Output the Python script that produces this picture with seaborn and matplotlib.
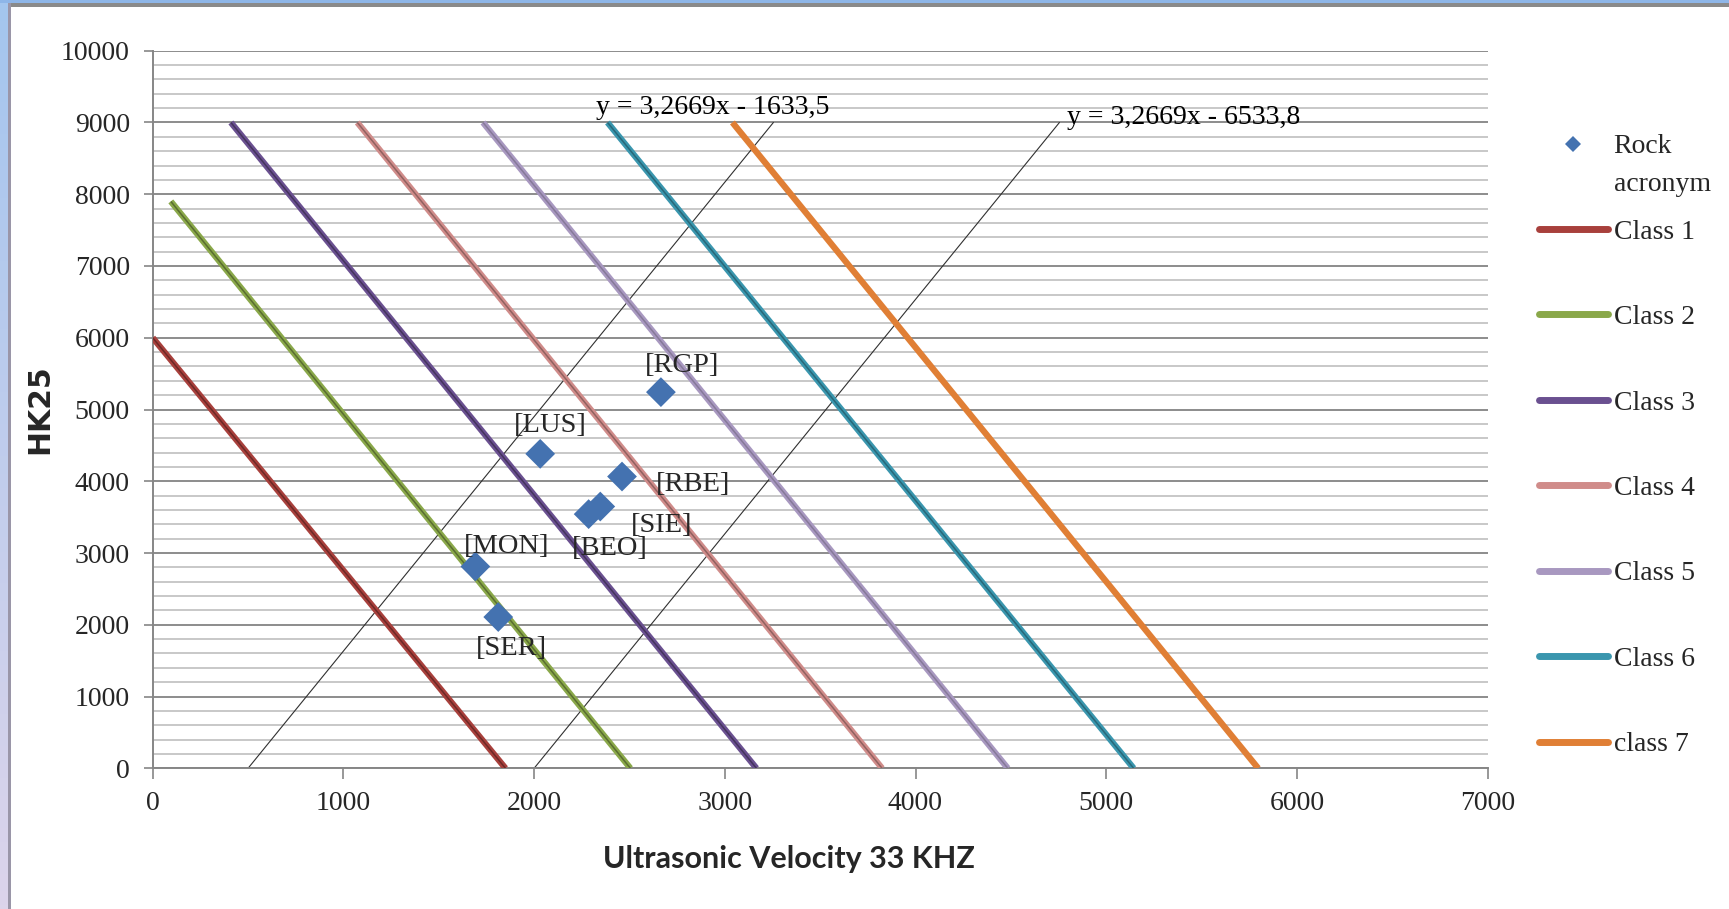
import numpy as np
import pandas as pd
import matplotlib
matplotlib.use("Agg")
import matplotlib.pyplot as plt
import matplotlib.patheffects as pe
from matplotlib.lines import Line2D
from matplotlib.patches import Rectangle
from matplotlib.ticker import MultipleLocator
from matplotlib import font_manager as fm
import seaborn as sns

# ---------------- data ----------------
rock_names = ["RGP", "LUS", "RBE", "SIE", "BEO", "MON", "SER"]
rock_x = [2665, 2032, 2461, 2347, 2286, 1692, 1812]
rock_y = [5242, 4382, 4066, 3648, 3542, 2812, 2108]

classes = ["Class 1", "Class 2", "Class 3", "Class 4", "Class 5", "Class 6", "class 7"]
class_x_top = [0, 95, 410, 1073, 1732, 2385, 3040]
class_y_top = [6000, 7900, 9000, 9000, 9000, 9000, 9000]
class_x_base = [1850, 2505, 3166, 3825, 4484, 5144, 5797]
class_y_base = [0, 0, 0, 0, 0, 0, 0]

trend_slope = [3.2669, 3.2669]
trend_intercept = [-1633.5, -6533.8]
trend_labels = ["y = 3,2669x - 1633,5", "y = 3,2669x - 6533,8"]
trend_y_range = [0, 9000]

x_ticks = [0, 1000, 2000, 3000, 4000, 5000, 6000, 7000]
y_ticks = [0, 1000, 2000, 3000, 4000, 5000, 6000, 7000, 8000, 9000, 10000]

# ---------------- style ----------------
class_colors = ["#A8403C", "#8AA84A", "#6A5090", "#D08C8A", "#A898C0", "#3A96AE", "#E07F35"]
core_alpha = [0.35, 0.35, 0.35, 0.3, 0.2, 0.3, 0.0]
rock_color = "#4472B0"
label_offsets = {  # points (dx, dy) of labels relative to markers
    "RGP": (15.3, 18.9), "LUS": (7.2, 20.2), "RBE": (51.3, -6.0),
    "SIE": (43.9, -13.9), "BEO": (14.9, -25.0), "MON": (22.3, 14.2),
    "SER": (9.4, -22.8),
}
trend_label_pos = [(2325, 9114), (4793, 8975)]

sns.set_style("white")
plt.rcParams["font.family"] = ["Liberation Serif", "DejaVu Serif"]

names = {f.name for f in fm.fontManager.ttflist}
if "Liberation Sans Narrow" in names:
    xlab_font, xlab_size = "Liberation Sans Narrow", 26
else:
    xlab_font, xlab_size = "Lato", 22

W, H = 1729, 909
fig = plt.figure(figsize=(W / 100, H / 100), dpi=100)
fig.patch.set_facecolor("white")
ax = fig.add_axes([152.7 / W, 1 - 768.3 / H, (1487.6 - 152.7) / W, (768.3 - 50.7) / H])

# class lines
rows = []
for c, xt, yt, xb, yb in zip(classes, class_x_top, class_y_top, class_x_base, class_y_base):
    rows.append({"Class": c, "x": xt, "y": yt})
    rows.append({"Class": c, "x": xb, "y": yb})
df_lines = pd.DataFrame(rows)
sns.lineplot(data=df_lines, x="x", y="y", hue="Class", palette=dict(zip(classes, class_colors)),
             linewidth=4.5, sort=False, estimator=None, legend=False, ax=ax, zorder=3)
for line, a in zip(ax.get_lines(), core_alpha):
    line.set_solid_capstyle("butt")
    if a > 0:
        line.set_path_effects([pe.Normal(), pe.Stroke(linewidth=1.1, foreground="black", alpha=a)])

# trend lines
for m, b in zip(trend_slope, trend_intercept):
    ys = np.array(trend_y_range, dtype=float)
    xs = (ys - b) / m
    sns.lineplot(x=xs, y=ys, color="#303030", linewidth=0.8, sort=False, estimator=None, ax=ax, zorder=2)
for lbl, (tx, ty) in zip(trend_labels, trend_label_pos):
    ax.text(tx, ty, lbl, fontsize=20, ha="left", va="baseline", color="black", zorder=6)

# scatter
sns.scatterplot(x=rock_x, y=rock_y, marker="D", s=230, color=rock_color, edgecolor="none",
                legend=False, ax=ax, zorder=5)
for n, x, y in zip(rock_names, rock_x, rock_y):
    ax.annotate(f"[{n}]", (x, y), xytext=label_offsets[n], textcoords="offset points",
                ha="center", va="center", fontsize=20.5, zorder=6)

# axes
ax.set_xlim(0, 7000)
ax.set_ylim(0, 10000)
ax.set_xticks(x_ticks)
ax.set_yticks(y_ticks)
ax.set_xticklabels([str(v) for v in x_ticks])
ax.set_yticklabels([str(v) for v in y_ticks])
ax.yaxis.set_minor_locator(MultipleLocator(200))
ax.set_axisbelow(True)
ax.grid(which="minor", axis="y", color="#C8C8C8", linewidth=1.4)
ax.grid(which="major", axis="y", color="#8C8C8C", linewidth=1.4)
ax.grid(which="both", axis="x", visible=False)
for s in ["top", "right"]:
    ax.spines[s].set_visible(False)
for s in ["left", "bottom"]:
    ax.spines[s].set_color("#868686")
    ax.spines[s].set_linewidth(1.4)
ax.tick_params(axis="y", which="major", length=6.5, width=1.2, color="#868686", pad=10,
               labelsize=20, direction="out", left=True)
ax.tick_params(axis="y", which="minor", length=0)
ax.tick_params(axis="x", which="major", length=8, width=1.2, color="#868686", pad=8,
               labelsize=20, direction="out", bottom=True)

ax.set_xlabel("Ultrasonic Velocity 33 KHZ", fontsize=xlab_size, fontweight="bold",
              family=[xlab_font, "DejaVu Sans"])
ax.xaxis.label.set_va("center")
ax.xaxis.set_label_coords((789 - 152.7) / (1487.6 - 152.7), (768.3 - 859) / (768.3 - 50.7))
ax.set_ylabel("HK25", fontsize=21.5, fontweight="bold", family=["DejaVu Sans"])
ax.yaxis.label.set_va("center")
ax.yaxis.set_label_coords((40 - 152.7) / (1487.6 - 152.7), 0.5)

# legend
handles = [Line2D([], [], marker="D", ls="", color=rock_color, markersize=8, markeredgewidth=0)]
for c in class_colors:
    handles.append(Line2D([], [], color=c, linewidth=5, solid_capstyle="round"))
leg = ax.legend(handles=handles, labels=["Rock"] + classes, loc="upper left",
                bbox_to_anchor=(1538.5 / W, 1 - 133.8 / H), bbox_transform=fig.transFigure,
                frameon=False, fontsize=20, handlelength=2.5, handletextpad=0.2,
                labelspacing=2.16, borderpad=0, borderaxespad=0)
fig.text(1614 / W, 1 - 184.7 / H, "acronym", fontsize=20, ha="left", va="center")

# window-frame decoration
fig.add_artist(Rectangle((0, 1 - 3.3 / H), 1, 3.3 / H, transform=fig.transFigure,
                         color="#8EB6E8", lw=0))
fig.add_artist(Rectangle((7.7 / W, 1 - 6.7 / H), 1, 3.4 / H, transform=fig.transFigure,
                         color="#8A8A8A", lw=0))
fig.add_artist(Rectangle((7.7 / W, 0), 3.0 / W, 1 - 3.3 / H, transform=fig.transFigure,
                         color="#9A96A8", lw=0))
gax = fig.add_axes([0, 0, 7.7 / W, 1 - 3.3 / H])
top_c = np.array(matplotlib.colors.to_rgb("#A4C6EE"))
bot_c = np.array(matplotlib.colors.to_rgb("#DCD4EA"))
t = np.linspace(0, 1, 256)[:, None]
grad = (top_c[None, :] * (1 - t) + bot_c[None, :] * t)[:, None, :]
gax.imshow(grad, aspect="auto", extent=[0, 1, 0, 1])
gax.set_axis_off()

fig.savefig("out.png", dpi=100)
